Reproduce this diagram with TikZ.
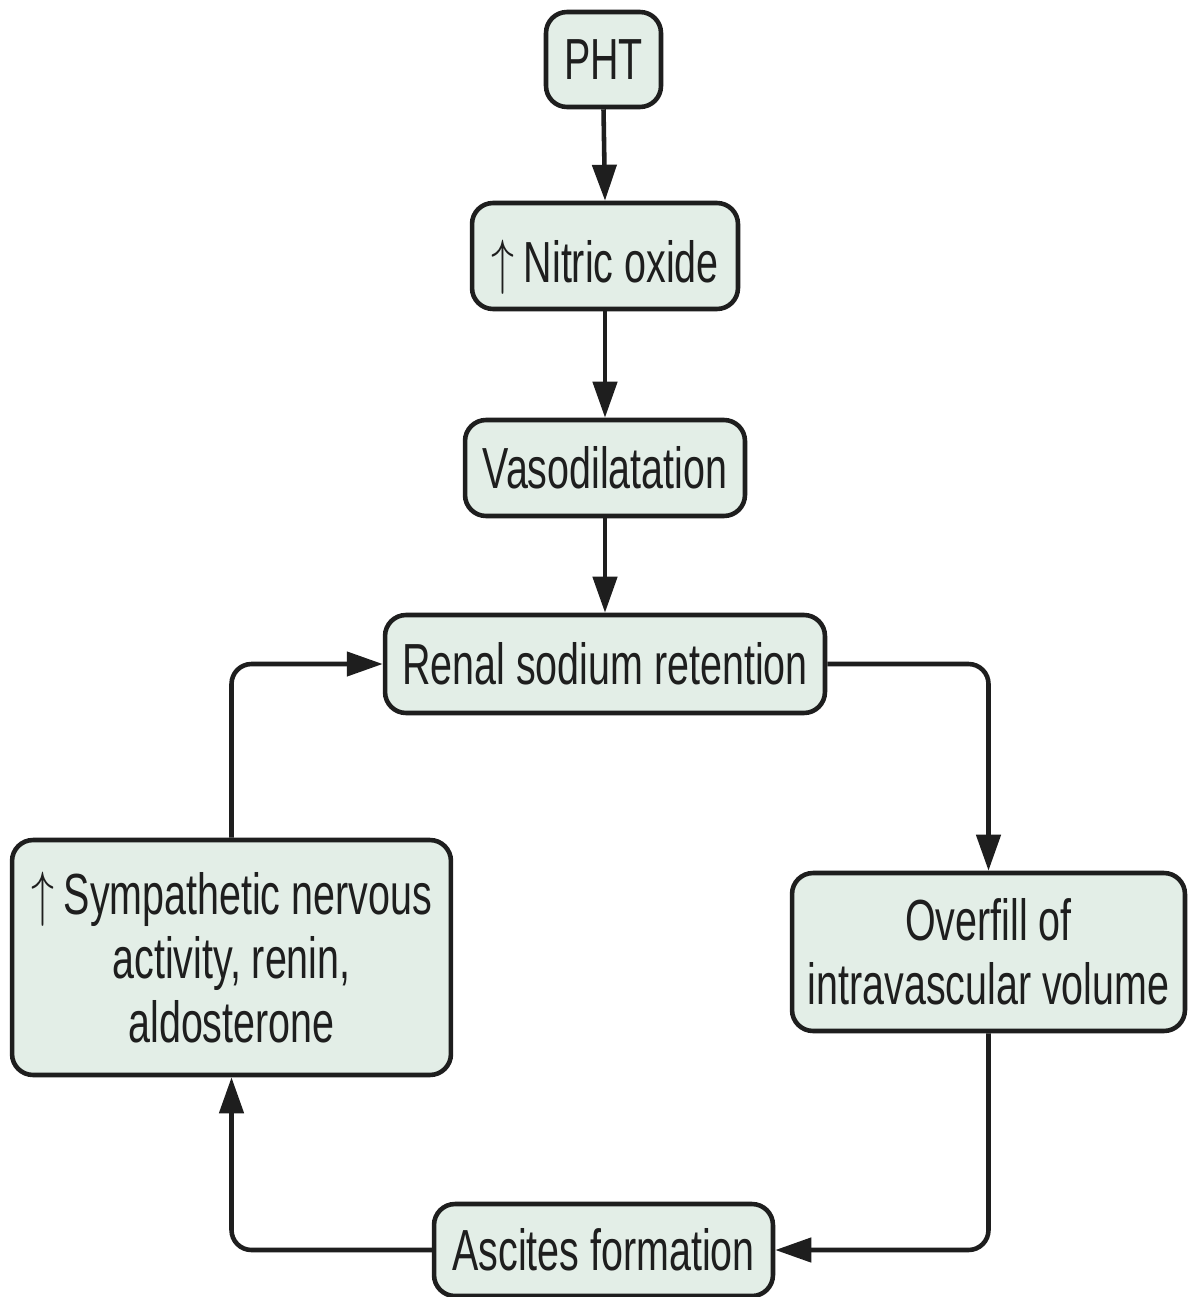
\documentclass[tikz,border=0pt]{standalone}
\usepackage{graphicx}
\usepackage{fontspec}
\setmainfont{Liberation Sans}[FakeStretch=0.68]
\usetikzlibrary{arrows.meta}
\definecolor{boxfill}{HTML}{E3EEE7}
\definecolor{ink}{HTML}{1E1E1E}
\newcommand{\upar}{\scalebox{1.05}[1.4]{$\uparrow$}}
\begin{document}
\begin{tikzpicture}[x=0.02cm,y=-0.02cm,
  box/.style={draw=ink,fill=boxfill,line width=2.6pt,rounded corners=0.42cm,
    align=center,inner sep=0pt,font=\fontsize{33pt}{36.5pt}\selectfont,text=ink},
  conn/.style={draw=ink,line width=2.6pt,rounded corners=0.4cm,
    -{Triangle[length=0.72cm,width=0.48cm]}}]
\useasboundingbox[fill=white] (0,0) rectangle (1187,1297);
\node[box,minimum width=2.3cm,minimum height=1.9cm] (pht) at (603.5,59.5) {PHT};
\node[box,minimum width=5.32cm,minimum height=2.12cm,text height=1.05cm,text depth=0cm] (nitric) at (605,256) {\upar\,Nitric oxide};
\node[box,minimum width=5.6cm,minimum height=1.92cm] (vaso) at (605,468) {Vasodilatation};
\node[box,minimum width=8.8cm,minimum height=1.96cm] (renal) at (605,664) {Renal sodium retention};
\node[box,minimum width=8.78cm,minimum height=4.7cm] (symp) at (231.5,957.5) {\upar\,Sympathetic nervous\\activity, renin,\\aldosterone};
\node[box,minimum width=7.86cm,minimum height=3.16cm] (over) at (988.5,952) {Overfill of\\intravascular volume};
\node[box,minimum width=6.78cm,minimum height=1.84cm] (asc) at (603.5,1250) {Ascites formation};
\draw[conn] (pht.south) -- (nitric.north);
\draw[conn] (nitric.south) -- (vaso.north);
\draw[conn] (vaso.south) -- (renal.north);
\draw[conn] (symp.north) |- (renal.west);
\draw[conn] (renal.east) -| (over.north);
\draw[conn] (over.south) |- (asc.east);
\draw[conn] (asc.west) -| (symp.south);
\end{tikzpicture}
\end{document}
